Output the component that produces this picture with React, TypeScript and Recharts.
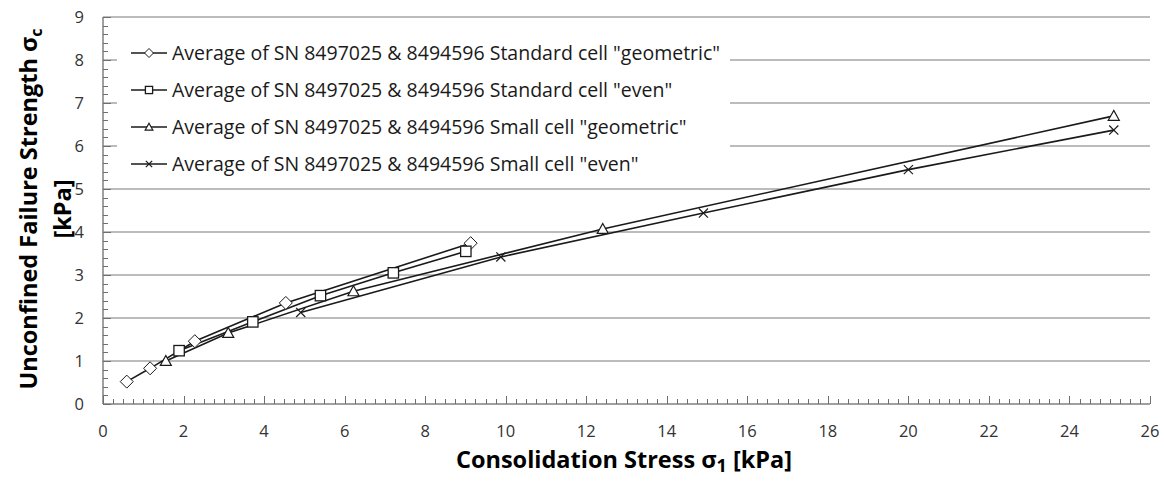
import React from 'react';
import { LineChart, Line, XAxis, YAxis, ReferenceLine, Legend } from 'recharts';

// Standard cell "geometric"
const stdGeoX = [0.59, 1.17, 2.28, 4.54, 9.13];
const stdGeoY = [0.52, 0.83, 1.46, 2.35, 3.74];
// Standard cell "even"
const stdEvenX = [1.89, 3.72, 5.4, 7.21, 9.01];
const stdEvenY = [1.24, 1.91, 2.52, 3.05, 3.55];
// Small cell "geometric"
const smlGeoX = [1.56, 3.11, 6.22, 12.41, 25.1];
const smlGeoY = [1.0, 1.65, 2.62, 4.07, 6.7];
// Small cell "even"
const smlEvenX = [4.91, 9.88, 14.91, 20.0, 25.1];
const smlEvenY = [2.13, 3.42, 4.44, 5.45, 6.37];

const seriesNames = [
  'Average of SN 8497025 & 8494596 Standard cell "geometric"',
  'Average of SN 8497025 & 8494596 Standard cell "even"',
  'Average of SN 8497025 & 8494596 Small cell "geometric"',
  'Average of SN 8497025 & 8494596 Small cell "even"',
];
const markerKinds = ['diamond', 'square', 'triangle', 'cross'];

const xMajorTicks = [0, 2, 4, 6, 8, 10, 12, 14, 16, 18, 20, 22, 24, 26];
const yMajorTicks = [0, 1, 2, 3, 4, 5, 6, 7, 8, 9];
const xMinorStep = 0.25;
const yMinorStep = 0.2;

const xTicks = Array.from({ length: Math.round(26 / xMinorStep) + 1 }, (_, i) => i * xMinorStep);
const yTicks = Array.from({ length: Math.round(9 / yMinorStep) + 1 }, (_, i) => i * yMinorStep);

const zip = (xs: number[], ys: number[]) => xs.map((x, i) => ({ x, y: ys[i] }));
const seriesData = [
  zip(stdGeoX, stdGeoY),
  zip(stdEvenX, stdEvenY),
  zip(smlGeoX, smlGeoY),
  zip(smlEvenX, smlEvenY),
];

const FONT = '"Open Sans", sans-serif';
const LINE = '#1a1a1a';
const AXIS = '#808080';
const TICK = '#6e6e6e';
const GRID = '#a6a6a6';

function Marker({ kind, cx, cy, s }: { kind: string; cx: number; cy: number; s: number }) {
  if (kind === 'diamond') {
    return (
      <polygon
        points={`${cx},${cy - s} ${cx + s},${cy} ${cx},${cy + s} ${cx - s},${cy}`}
        fill="#fff"
        stroke={LINE}
        strokeWidth={1}
      />
    );
  }
  if (kind === 'square') {
    const h = s * 0.8;
    return <rect x={cx - h} y={cy - h} width={2 * h} height={2 * h} fill="#fff" stroke={LINE} strokeWidth={1.3} />;
  }
  if (kind === 'triangle') {
    const h = s * 0.85;
    return (
      <polygon
        points={`${cx},${cy - h} ${cx + h},${cy + h * 0.8} ${cx - h},${cy + h * 0.8}`}
        fill="#fff"
        stroke={LINE}
        strokeWidth={1.2}
      />
    );
  }
  const h = s * 0.7;
  return (
    <g stroke={LINE} strokeWidth={1.2}>
      <line x1={cx - h} y1={cy - h} x2={cx + h} y2={cy + h} />
      <line x1={cx - h} y1={cy + h} x2={cx + h} y2={cy - h} />
    </g>
  );
}

const makeDot = (kind: string) => (props: any) => {
  const { cx, cy, index } = props;
  if (cx == null || cy == null) return <g key={index} />;
  return (
    <g key={`${kind}-${index}`}>
      <Marker kind={kind} cx={cx} cy={cy} s={6.5} />
    </g>
  );
};

const XTick = (props: any) => {
  const { x, y, payload } = props;
  const v = payload.value as number;
  const major = xMajorTicks.some((m) => Math.abs(m - v) < 1e-6);
  const px = Math.round(x) + 0.5;
  return (
    <g>
      <line x1={px} x2={px} y1={y} y2={y - (major ? 8 : 5)} stroke={TICK} strokeWidth={1} />
      {major && (
        <text x={x} y={y + 33} textAnchor="middle" fontFamily={FONT} fontSize={16.5} fill="#333">
          {Math.round(v)}
        </text>
      )}
    </g>
  );
};

const YTick = (props: any) => {
  const { x, y, payload } = props;
  const v = payload.value as number;
  const major = yMajorTicks.some((m) => Math.abs(m - v) < 1e-6);
  const py = Math.round(y) + 0.5;
  return (
    <g>
      <line x1={x} x2={x + (major ? 8 : 5)} y1={py} y2={py} stroke={TICK} strokeWidth={1} />
      {major && (
        <text x={x - 19} y={y + 6} textAnchor="end" fontFamily={FONT} fontSize={16.5} fill="#333">
          {Math.round(v)}
        </text>
      )}
    </g>
  );
};

const LegendContent = () => (
  <div style={{ background: '#fff', padding: '3px 10px 6px 14px', fontFamily: FONT }}>
    {seriesNames.map((name, i) => (
      <div key={name} style={{ display: 'flex', alignItems: 'center', height: 37 }}>
        <svg width={38} height={16} style={{ marginRight: 3 }}>
          <line x1={0} x2={36} y1={8} y2={8} stroke={LINE} strokeWidth={1.5} />
          <Marker kind={markerKinds[i]} cx={18} cy={8} s={4.5} />
        </svg>
        <span style={{ fontSize: 19.5, color: '#1a1a1a', whiteSpace: 'nowrap' }}>{name}</span>
      </div>
    ))}
  </div>
);

const XLabel = () => (
  <text x={624} y={468} textAnchor="middle" fontFamily={FONT} fontWeight="bold" fontSize={23.5} fill="#000">
    Consolidation Stress σ<tspan fontSize={18} dy={4}>1</tspan>
    <tspan dy={-4}> [kPa]</tspan>
  </text>
);

const YLabel = () => (
  <g>
    <text
      x={37}
      y={209}
      transform="rotate(-90, 37, 209)"
      textAnchor="middle"
      fontFamily={FONT}
      fontWeight="bold"
      fontSize={23.5}
      fill="#000"
    >
      Unconfined Failure Strength σ<tspan fontSize={16} dy={5}>c</tspan>
    </text>
    <text
      x={71}
      y={209}
      transform="rotate(-90, 71, 209)"
      textAnchor="middle"
      fontFamily={FONT}
      fontWeight="bold"
      fontSize={23.5}
      fill="#000"
    >
      [kPa]
    </text>
  </g>
);

export default function App() {
  return (
    <div style={{ position: 'absolute', left: 0, top: 0, width: 1164, height: 482, background: '#fff' }}>
      <LineChart width={1164} height={482} margin={{ top: 17, right: 14, bottom: 48, left: 43 }}>
        {yMajorTicks.slice(1).map((v) => (
          <ReferenceLine key={v} y={v} stroke={GRID} strokeWidth={1.5} ifOverflow="extendDomain" />
        ))}
        <XAxis
          type="number"
          dataKey="x"
          domain={[0, 26]}
          ticks={xTicks}
          interval={0}
          tickSize={0}
          tickMargin={0}
          tick={<XTick />}
          tickLine={false}
          axisLine={{ stroke: AXIS, strokeWidth: 1.5 }}
          height={30}
          allowDecimals
          label={{ content: () => <XLabel /> }}
        />
        <YAxis
          type="number"
          dataKey="y"
          domain={[0, 9]}
          ticks={yTicks}
          interval={0}
          tickSize={0}
          tickMargin={0}
          tick={<YTick />}
          tickLine={false}
          axisLine={{ stroke: AXIS, strokeWidth: 1.5 }}
          width={60}
          label={{ content: () => <YLabel /> }}
        />
        <Legend
          layout="vertical"
          align="center"
          verticalAlign="middle"
          content={<LegendContent />}
          wrapperStyle={{ left: 117, top: 31, width: 'auto' }}
        />
        {seriesData.map((d, i) => (
          <Line
            key={seriesNames[i]}
            name={seriesNames[i]}
            data={d}
            dataKey="y"
            type="linear"
            stroke={LINE}
            strokeWidth={1.6}
            dot={makeDot(markerKinds[i])}
            activeDot={false}
            isAnimationActive={false}
            legendType="none"
          />
        ))}
      </LineChart>
    </div>
  );
}
